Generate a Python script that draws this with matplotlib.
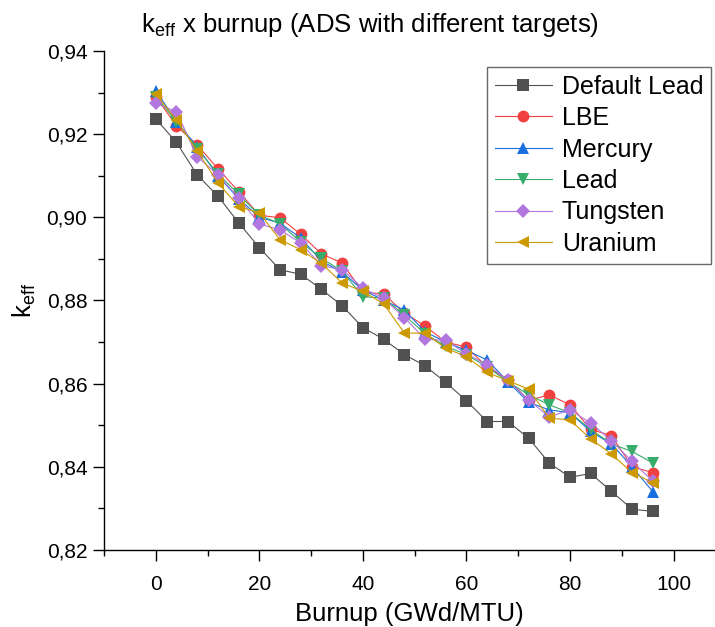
import matplotlib
matplotlib.use("Agg")
import matplotlib.pyplot as plt
from matplotlib.ticker import MultipleLocator, FuncFormatter

plt.rcParams['font.family'] = ['Liberation Sans', 'DejaVu Sans']
plt.rcParams['mathtext.fontset'] = 'custom'
plt.rcParams['mathtext.rm'] = 'Liberation Sans'
plt.rcParams['mathtext.it'] = 'Liberation Sans'

burnup = [0, 4, 8, 12, 16, 20, 24, 28, 32, 36, 40, 44, 48, 52, 56, 60, 64, 68, 72, 76, 80, 84, 88, 92, 96]

default_lead = [0.9237, 0.9180, 0.9102, 0.9051, 0.8987, 0.8927, 0.8874, 0.8863, 0.8827, 0.8787,
                0.8735, 0.8707, 0.8670, 0.8643, 0.8603, 0.8559, 0.8509, 0.8509, 0.8469, 0.8409,
                0.8375, 0.8384, 0.8341, 0.8298, 0.8293]
lbe = [0.9290, 0.9220, 0.9174, 0.9117, 0.9062, 0.9005, 0.8999, 0.8959, 0.8912, 0.8890,
       0.8820, 0.8816, 0.8770, 0.8739, 0.8700, 0.8688, 0.8640, 0.8610, 0.8560, 0.8573,
       0.8549, 0.8490, 0.8475, 0.8400, 0.8386]
mercury = [0.9305, 0.9230, 0.9170, 0.9100, 0.9045, 0.9000, 0.8986, 0.8950, 0.8895, 0.8868,
           0.8825, 0.8801, 0.8777, 0.8725, 0.8700, 0.8680, 0.8657, 0.8605, 0.8555, 0.8537,
           0.8530, 0.8485, 0.8455, 0.8400, 0.8340]
lead = [0.9290, 0.9230, 0.9165, 0.9105, 0.9055, 0.9005, 0.8985, 0.8940, 0.8902, 0.8870,
        0.8809, 0.8806, 0.8765, 0.8720, 0.8690, 0.8670, 0.8640, 0.8605, 0.8573, 0.8549,
        0.8530, 0.8490, 0.8455, 0.8437, 0.8409]
tungsten = [0.9274, 0.9254, 0.9146, 0.9102, 0.9047, 0.8984, 0.8970, 0.8938, 0.8884, 0.8874,
            0.8830, 0.8805, 0.8759, 0.8707, 0.8704, 0.8672, 0.8645, 0.8609, 0.8561, 0.8520,
            0.8537, 0.8505, 0.8463, 0.8413, 0.8365]
uranium = [0.9296, 0.9234, 0.9160, 0.9083, 0.9026, 0.9011, 0.8946, 0.8922, 0.8889, 0.8842,
           0.8822, 0.8792, 0.8722, 0.8721, 0.8685, 0.8665, 0.8627, 0.8607, 0.8587, 0.8517,
           0.8513, 0.8467, 0.8431, 0.8386, 0.8362]

series = [
    ("Default Lead", default_lead, "#515151", "s"),
    ("LBE", lbe, "#F14040", "o"),
    ("Mercury", mercury, "#1A6FDF", "^"),
    ("Lead", lead, "#37AD6B", "v"),
    ("Tungsten", tungsten, "#B177DE", "D"),
    ("Uranium", uranium, "#CC9900", "<"),
]

fig = plt.figure(figsize=(7.15, 6.27), dpi=100)
ax = fig.add_axes([104/715, 77/627, 1 - 104/715, (550-51)/627])

for name, vals, col, mk in series:
    ms = 7 if mk == "D" else 8.5
    ax.plot(burnup, vals, color=col, lw=0.8, marker=mk, markersize=ms,
            markeredgewidth=0, label=name)

ax.set_xlim(-10, 108)
ax.set_ylim(0.82, 0.94)
ax.xaxis.set_major_locator(MultipleLocator(20))
ax.xaxis.set_minor_locator(MultipleLocator(10))
ax.yaxis.set_major_locator(MultipleLocator(0.02))
ax.yaxis.set_minor_locator(MultipleLocator(0.01))
ax.yaxis.set_major_formatter(FuncFormatter(lambda v, p: f"{v:.2f}".replace(".", ",")))
ax.tick_params(axis='both', which='major', length=8, width=1, labelsize=15, direction='out', pad=4)
ax.tick_params(axis='x', which='major', pad=10)
ax.tick_params(axis='both', which='minor', length=4, width=1, direction='out')
for s in ['top', 'right']:
    ax.spines[s].set_visible(False)
for s in ['left', 'bottom']:
    ax.spines[s].set_linewidth(1)

ax.set_xlabel("Burnup (GWd/MTU)", fontsize=18.5, labelpad=6)
ax.set_ylabel(r"k$_{\mathrm{eff}}$", fontsize=18.5, labelpad=6)
fig.text(0.517, 1 - 25/627, r"k$_{\mathrm{eff}}$ x burnup (ADS with different targets)",
         ha='center', va='center', fontsize=18.5)

leg = ax.legend(loc='upper left', bbox_to_anchor=(487/715, 1 - 67/627),
                bbox_transform=fig.transFigure, fontsize=18, frameon=True,
                fancybox=False, edgecolor='#444444', handlelength=2.3,
                borderpad=0.3, labelspacing=0.3, handletextpad=0.4, borderaxespad=0)
leg.get_frame().set_linewidth(1)

fig.savefig("out.png", dpi=100, facecolor='white')
